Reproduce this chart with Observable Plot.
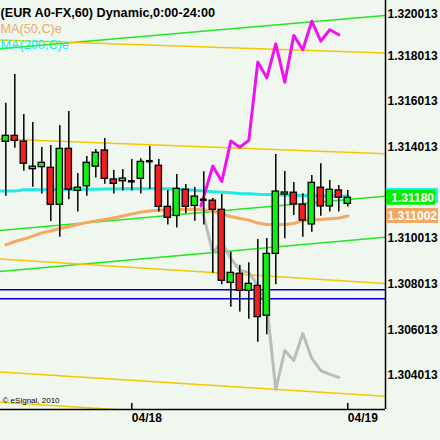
<!DOCTYPE html>
<html>
<head>
<meta charset="utf-8">
<script src="https://cdn.jsdelivr.net/npm/d3@7"></script>
<script src="https://cdn.jsdelivr.net/npm/@observablehq/plot@0.6"></script>
<style>
  html, body { margin: 0; padding: 0; background: #f0f7ef; }
  #chart svg { display: block; }
</style>
</head>
<body>
<div id="chart"></div>
<script>
// EUR/USD hourly candles (bar index 0..38)
const opens  = [1.31425,1.31451,1.31426,1.31305,1.31314,1.31311,1.31149,1.31394,1.31210,1.31230,1.31316,1.31387,1.31260,1.31252,1.31252,1.31263,1.31340,1.31320,1.31140,1.31100,1.31215,1.31144,1.31171,1.31167,1.31127,1.30807,1.30847,1.30772,1.30794,1.30663,1.30934,1.31194,1.31202,1.31150,1.31063,1.31224,1.31142,1.31212,1.31153];
const highs  = [1.31594,1.31720,1.31545,1.31510,1.31400,1.31409,1.31496,1.31558,1.31286,1.31361,1.31391,1.31439,1.31299,1.31304,1.31347,1.31351,1.31404,1.31347,1.31212,1.31282,1.31238,1.31225,1.31294,1.31177,1.31194,1.30941,1.30883,1.30895,1.30997,1.31001,1.31369,1.31295,1.31247,1.31197,1.31277,1.31329,1.31256,1.31234,1.31212];
const lows   = [1.31187,1.31397,1.31296,1.31226,1.31196,1.31076,1.31007,1.31171,1.31117,1.31187,1.31266,1.31239,1.31196,1.31209,1.31209,1.31196,1.31217,1.31117,1.31060,1.31047,1.31110,1.31077,1.31061,1.30849,1.30799,1.30700,1.30679,1.30648,1.30547,1.30580,1.30799,1.31000,1.31102,1.31007,1.31029,1.31099,1.31117,1.31117,1.31139];
const closes = [1.31451,1.31429,1.31329,1.31316,1.31333,1.31149,1.31394,1.31215,1.31224,1.31333,1.31377,1.31263,1.31241,1.31264,1.31252,1.31337,1.31340,1.31140,1.31092,1.31219,1.31140,1.31185,1.31171,1.31127,1.30816,1.30851,1.30772,1.30803,1.30657,1.30934,1.31207,1.31203,1.31150,1.31080,1.31245,1.31142,1.31215,1.31180,1.31180];

// Moving averages (first bar index of each series given separately)
const ma200Start = -1;
const ma200 = [1.31209,1.31209,1.31209,1.31215,1.31215,1.31215,1.31216,1.31216,1.31216,1.31217,1.31217,1.31217,1.31218,1.31218,1.31219,1.31219,1.31219,1.31219,1.31219,1.31219,1.31217,1.31215,1.31213,1.31209,1.31206,1.31204,1.31202,1.31199,1.31197,1.31195,1.31194,1.31193,1.31192,1.31191,1.31190,1.31189,1.31189,1.31188,1.31188,1.31188];
const ma50Start = 0;
const ma50 = [1.30974,1.30988,1.30999,1.31012,1.31026,1.31034,1.31045,1.31054,1.31063,1.31072,1.31078,1.31085,1.31091,1.31100,1.31109,1.31117,1.31122,1.31125,1.31127,1.31128,1.31128,1.31130,1.31128,1.31120,1.31109,1.31098,1.31089,1.31082,1.31069,1.31063,1.31063,1.31063,1.31067,1.31080,1.31082,1.31085,1.31088,1.31091,1.311002];

// Pattern projections
const projBars  = [21.7,23,24,25,26,27,28,29,30,31,32,33,34,35,36,37];
const projUp    = [1.31146,1.31319,1.31251,1.31428,1.31401,1.31431,1.31774,1.31705,1.31854,1.31686,1.31891,1.31828,1.31953,1.31866,1.31916,1.31894];
const projDown  = [1.31146,1.30940,1.30984,1.30914,1.30861,1.30853,1.30796,1.30708,1.30340,1.30511,1.30467,1.30585,1.30476,1.30423,1.30406,1.30393];

// Trend channels: price at bar -1 and at bar 43
const channelBars = [-1, 43];
const greenChannels  = [[1.31831,1.31981],[1.31035,1.31190],[1.30856,1.31010]];
const yellowChannels = [[1.31871,1.31813],[1.31438,1.31371],[1.30913,1.30802],[1.30417,1.30308],[1.30285,1.30176]];
const blueLevels = [1.30777, 1.30737];

// Axes
const priceTicks = [1.304013,1.306013,1.308013,1.310013,1.312013,1.314013,1.316013,1.318013,1.320013];
const dayTicks  = [14, 38];
const dayLabels = ["04/18", "04/19"];
const xDomain = [-0.59, 42.19];
const yDomain = [1.302524, 1.320439];

const lastPrice = closes[closes.length - 1];
const lastMa50 = ma50[ma50.length - 1];
const lastMa200 = ma200[ma200.length - 1];

const candles = opens.map((o, i) => ({i, open: o, high: highs[i], low: lows[i], close: closes[i]}));
const bodies = candles.filter(d => d.open !== d.close);
const dojis = candles.filter(d => d.open === d.close);
const chanRows = (list) => list.flatMap((pair, k) => pair.map((p, j) => ({k, i: channelBars[j], p})));
const maRows = (arr, start) => arr.map((p, j) => ({i: start + j, p}));
const projRows = (arr) => arr.map((p, j) => ({i: projBars[j], p}));

const GREEN = "#11ee11", RED = "#ee2020";

// Value box on the right-hand price scale (label optional)
function priceBox(value, label, fill, boxWidth) {
  return (index, scales, values, dims) => {
    const y = scales.y(value);
    const x0 = dims.width - dims.marginRight + 1;
    const g = d3.create("svg:g");
    g.append("rect").attr("x", x0).attr("y", y - 7.5).attr("width", boxWidth).attr("height", 15).attr("fill", fill);
    if (label) {
      g.append("text").attr("x", x0 + boxWidth - 1).attr("y", y).attr("dy", "0.36em")
        .attr("text-anchor", "end").attr("fill", "#fff").attr("font-weight", "bold").attr("font-size", 12)
        .text(label);
    }
    return g.node();
  };
}

const chart = Plot.plot({
  width: 440,
  height: 440,
  marginLeft: 0,
  marginRight: 55,
  marginTop: 0,
  marginBottom: 31,
  style: {background: "#f0f7ef", fontFamily: "'Liberation Sans', Arial, sans-serif", overflow: "visible"},
  x: {type: "linear", domain: xDomain, axis: null},
  y: {domain: yDomain, axis: null},
  color: {type: "identity"},
  marks: [
    Plot.line(chanRows(greenChannels), {x: "i", y: "p", z: "k", stroke: "#22e622", strokeWidth: 1.5, clip: true}),
    Plot.line(chanRows(yellowChannels), {x: "i", y: "p", z: "k", stroke: "#f0c800", strokeWidth: 1.5, clip: true}),
    Plot.ruleY(blueLevels, {stroke: "#0000cc", strokeWidth: 1.5}),
    Plot.line(maRows(ma200, ma200Start), {x: "i", y: "p", stroke: "#22e8e8", strokeWidth: 3, clip: true}),
    Plot.line(maRows(ma50, ma50Start), {x: "i", y: "p", stroke: "#f4a864", strokeWidth: 3, clip: true}),
    Plot.line(projRows(projDown), {x: "i", y: "p", stroke: "#bcbcbc", strokeWidth: 3, clip: true}),
    Plot.line(projRows(projUp), {x: "i", y: "p", stroke: "#f010f0", strokeWidth: 3, clip: true}),
    Plot.ruleX(candles, {x: "i", y1: "low", y2: "high", stroke: "#000", strokeWidth: 1.5}),
    Plot.rect(bodies, {
      x1: d => d.i - 0.35, x2: d => d.i + 0.35, y1: "open", y2: "close",
      fill: d => d.close > d.open ? GREEN : RED, stroke: "#000", strokeWidth: 1.3
    }),
    Plot.ruleY(dojis, {y: "open", x1: d => d.i - 0.38, x2: d => d.i + 0.38, stroke: "#000", strokeWidth: 2.5}),
    // frame lines on the price and time scales
    Plot.ruleX([xDomain[1]], {stroke: "#000", strokeWidth: 1.5}),
    Plot.ruleY([yDomain[0]], {stroke: "#000", strokeWidth: 1.5}),
    Plot.tickX(dayTicks, {stroke: "#000", strokeWidth: 1.5, insetTop: 403}),
    Plot.axisX({ticks: dayTicks, tickFormat: d => dayLabels[dayTicks.indexOf(d)], tickSize: 0, tickPadding: 4,
      textAnchor: "start", fontSize: 12, fontWeight: "bold", fill: "#000", label: null}),
    Plot.axisY({ticks: priceTicks.filter(t => t !== 1.312013 && t !== 1.320013), anchor: "right", tickSize: 0, tickPadding: 2,
      tickFormat: d => d.toFixed(6), fontSize: 12, fontWeight: "bold", fill: "#000", label: null}),
    Plot.axisY({ticks: [1.320013], anchor: "right", tickSize: 0, tickPadding: 2, dy: 4,
      tickFormat: d => d.toFixed(6), fontSize: 12, fontWeight: "bold", fill: "#000", label: null}),
    priceBox(lastMa200, null, "#22f0f0", 52),
    priceBox(lastPrice, lastPrice.toFixed(5), "#00ee00", 49),
    priceBox(lastMa50, lastMa50.toFixed(6), "#f0a864", 52),
    Plot.text(["(EUR A0-FX,60) Dynamic,0:00-24:00"], {text: d => d, frameAnchor: "top-left", textAnchor: "start",
      dy: 7, fontSize: 12.7, fontWeight: "bold", fill: "#000"}),
    Plot.text(["MA(50,C)e"], {text: d => d, frameAnchor: "top-left", textAnchor: "start",
      dy: 23, fontSize: 12.7, fill: "#f4a864"}),
    Plot.text(["MA(200,C)e"], {text: d => d, frameAnchor: "top-left", textAnchor: "start",
      dy: 39, fontSize: 12.7, fill: "#00f4f4"}),
    Plot.text(["© eSignal, 2010"], {text: d => d, frameAnchor: "bottom-left", textAnchor: "start",
      dx: 2, dy: -7, fontSize: 8, fill: "#000"})
  ]
});
document.getElementById("chart").appendChild(chart);
</script>
</body>
</html>
